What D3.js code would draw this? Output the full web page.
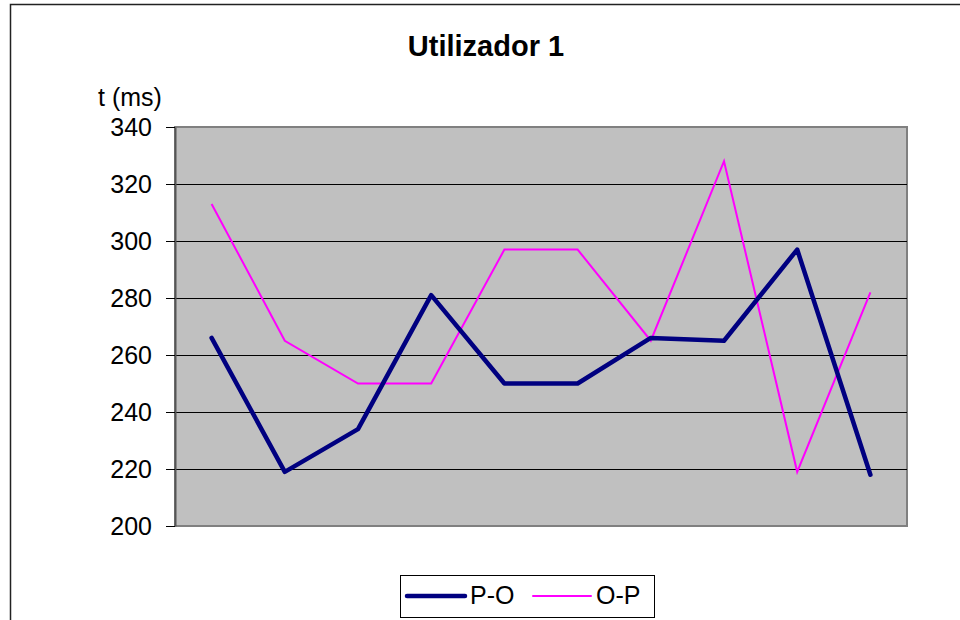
<!DOCTYPE html>
<head>
  <meta charset="UTF-8"/>
  <title>Utilizador 1</title>
  <script src="https://cdn.jsdelivr.net/npm/d3@7"></script>
  <style>
    body { margin: 0; background: #fff; font-family: 'Liberation Sans', Arial, sans-serif; }
    svg { display: block; }
    text { fill: #000; font-family: 'Liberation Sans', Arial, sans-serif; }
    .title { font-size: 29px; font-weight: bold; }
    .tick text { font-size: 25px; }
    .legend text { font-size: 25px; }
  </style>
</head>
<body>
<svg width="960" height="620"></svg>
<script>
const categories = ['1', '2', '3', '4', '5', '6', '7', '8', '9', '10'];
const seriesPO = [266, 219, 234, 281, 250, 250, 266, 265, 297, 218];
const seriesOP = [313, 265, 250, 250, 297, 297, 265, 328, 219, 282];
const yTicks = [200, 220, 240, 260, 280, 300, 320, 340];

const svg = d3.select('svg');

// outer chart border
svg.append('rect')
  .attr('x', 10.5).attr('y', 4.5)
  .attr('width', 960).attr('height', 640)
  .attr('fill', 'none').attr('stroke', '#222').attr('stroke-width', 1.5);

const plot = { left: 175, top: 127, right: 907, bottom: 526 };

const x = d3.scaleBand()
  .domain(categories)
  .range([plot.left, plot.right]);

const y = d3.scaleLinear()
  .domain([200, 340])
  .range([plot.bottom, plot.top]);

// plot background
svg.append('rect')
  .attr('x', plot.left).attr('y', plot.top)
  .attr('width', plot.right - plot.left).attr('height', plot.bottom - plot.top)
  .attr('fill', '#c0c0c0')
  .attr('stroke', '#808080').attr('stroke-width', 2);

// grid lines
svg.append('g')
  .selectAll('line')
  .data(yTicks.filter(t => t > 200 && t < 340))
  .enter().append('line')
  .attr('x1', plot.left).attr('x2', plot.right)
  .attr('y1', d => Math.round(y(d)) + 0.5).attr('y2', d => Math.round(y(d)) + 0.5)
  .attr('stroke', '#000').attr('stroke-width', 1);

// y axis
const yAxis = svg.append('g')
  .attr('transform', `translate(${plot.left},0)`)
  .call(d3.axisLeft(y).tickValues(yTicks).tickSize(9).tickPadding(14).tickSizeOuter(0));
yAxis.select('.domain').attr('stroke', '#555').attr('stroke-width', 2);
yAxis.selectAll('.tick line').attr('stroke', '#000');
yAxis.selectAll('.tick text')
  .attr('font-family', "'Liberation Sans', Arial, sans-serif")
  .attr('font-size', 25).attr('fill', '#000');

svg.append('text')
  .attr('x', 130).attr('y', 106)
  .attr('text-anchor', 'middle')
  .attr('font-size', 25)
  .text('t (ms)');

svg.append('text')
  .attr('class', 'title')
  .attr('x', 486).attr('y', 56)
  .attr('text-anchor', 'middle')
  .text('Utilizador 1');

const line = d3.line()
  .x((d, i) => x(categories[i]) + x.bandwidth() / 2)
  .y(d => y(d));

svg.append('path')
  .datum(seriesOP)
  .attr('d', line)
  .attr('fill', 'none')
  .attr('stroke', '#ff00ff')
  .attr('stroke-width', 2);

svg.append('path')
  .datum(seriesPO)
  .attr('d', line)
  .attr('fill', 'none')
  .attr('stroke', '#000080')
  .attr('stroke-width', 4.5)
  .attr('stroke-linejoin', 'round')
  .attr('stroke-linecap', 'round');

// legend
const legend = svg.append('g').attr('class', 'legend');
legend.append('rect')
  .attr('x', 400.5).attr('y', 575.5)
  .attr('width', 254).attr('height', 42)
  .attr('fill', '#fff').attr('stroke', '#000').attr('stroke-width', 1);

const legendItems = [
  { name: 'P-O', color: '#000080', width: 4.5, x: 407 },
  { name: 'O-P', color: '#ff00ff', width: 2, x: 533 }
];
legendItems.forEach(it => {
  legend.append('line')
    .attr('x1', it.x).attr('x2', it.x + 58)
    .attr('y1', 596).attr('y2', 596)
    .attr('stroke', it.color).attr('stroke-width', it.width)
    .attr('stroke-linecap', 'round');
  legend.append('text')
    .attr('x', it.x + 63).attr('y', 604)
    .text(it.name);
});
</script>
</body>
